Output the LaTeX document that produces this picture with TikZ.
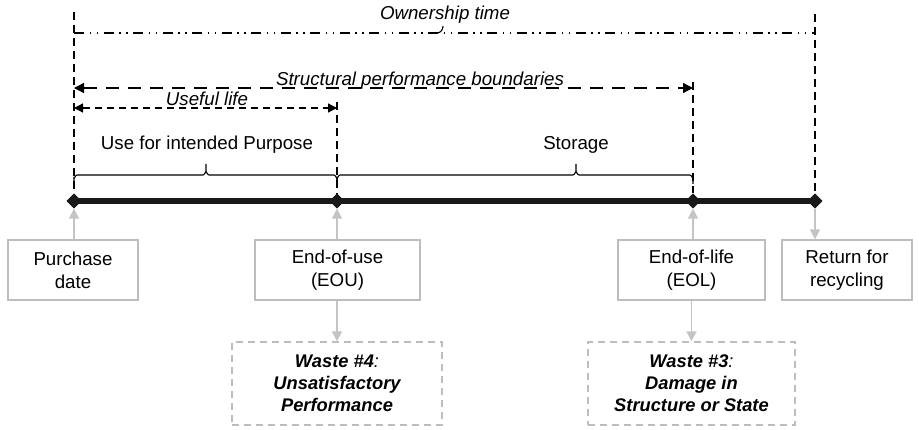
\documentclass[tikz,border=0pt]{standalone}
\usepackage{fontspec}
\setmainfont{Liberation Sans}
\usetikzlibrary{arrows.meta,shapes.geometric}
\definecolor{boxgray}{HTML}{BDBDBD}
\definecolor{linegray}{HTML}{C4C4C4}
\tikzset{
  lbl/.style={font=\fontsize{18.7}{22}\selectfont, inner sep=0pt},
  itlbl/.style={font=\fontsize{18.7}{22}\selectfont\itshape, inner sep=0pt},
  evbox/.style={draw=boxgray, line width=1.4pt, align=center, minimum height=60pt,
    font=\fontsize{18.7}{23}\selectfont, inner sep=0pt},
  wastebox/.style={draw=boxgray, line width=1.4pt, dash pattern=on 7pt off 5pt, align=center,
    minimum height=83pt, font=\fontsize{18.3}{22}\selectfont\bfseries\itshape, inner sep=0pt},
  pin/.style={diamond, fill=black!90, inner sep=0pt, minimum width=15pt, minimum height=15pt},
  grayarrow/.style={draw=linegray, line width=1.8pt, -{Triangle[length=10pt,width=10pt]}},
  vdash/.style={draw=black, line width=1.3pt, dash pattern=on 8pt off 5pt},
  bracket/.style={draw=black, line width=1.1pt},
}
% square bracket with a small central tick: #1 left x, #2 tick x, #3 right x, #4 line y
\newcommand\phasebracket[4]{%
  \draw[bracket] (#1,#4+9) -- (#1,#4+3) to[out=-90,in=180] (#1+3,#4)
    -- (#2-3,#4) to[out=0,in=90] (#2,#4-3) -- (#2,#4-11)
    (#2,#4-3) to[out=90,in=180] (#2+3,#4) -- (#3-3,#4) to[out=0,in=-90] (#3,#4+3) -- (#3,#4+9);
}
\begin{document}
\begin{tikzpicture}[x=1pt, y=-1pt]
\useasboundingbox (0,0) rectangle (919,430);

% milestones on the time axis
\node[pin] (d1) at (74,201) {};
\node[pin] (d2) at (337,201) {};
\node[pin] (d3) at (693,201) {};
\node[pin] (d4) at (815,201) {};
\draw[line width=6pt, black!90] (d1.center) -- (d4.center);
\foreach \d in {d1,d2,d3,d4} \node[pin] at (\d) {};

% vertical markers
\coordinate (t1) at (74,12);
\coordinate (t2) at (337,102);
\coordinate (t3) at (693,82);
\coordinate (t4) at (815,14);
\draw[vdash] (t1) -- (d1.north);
\draw[vdash] (t2) -- (d2.north);
\draw[vdash] (t3) -- (d3.north);
\draw[vdash] (t4) -- (d4.north);

% phase brackets
\phasebracket{74}{206}{337}{175}
\phasebracket{337}{576}{693}{175}
\node[lbl] (use) at (207,145) {Use for intended Purpose};
\node[lbl] (sto) at (576,145) {Storage};

% ownership time
\coordinate (o1) at (74,33);
\coordinate (o2) at (815,33);
\draw[draw=black, line width=1.1pt, dash pattern=on 10pt off 5.5pt on 1.5pt off 5.5pt on 1.5pt off 5.5pt] (o1) -- (o2);
\draw[draw=black, line width=1.1pt] (437,33) to[out=0, in=-90] (443,26);
\node[itlbl] (own) at (445,15) {Ownership time};

% structural performance boundaries
\coordinate (s1) at (74,88);
\coordinate (s2) at (693,88);
\draw[line width=1.4pt, dash pattern=on 13pt off 9pt, {Triangle[length=10pt,width=10pt]}-{Triangle[length=10pt,width=10pt]}] (s1) -- (s2);
\node[itlbl, anchor=base] (spb) at (420,85.5) {Structural performance boundaries};

% useful life
\coordinate (u1) at (74,108);
\coordinate (u2) at (337,108);
\draw[line width=1.3pt, dash pattern=on 7pt off 5pt, {Triangle[length=9pt,width=9pt]}-{Triangle[length=9pt,width=9pt]}] (u1) -- (u2);
\node[itlbl, anchor=base] (ul) at (207,106) {Useful life};

% event boxes
\node[evbox, minimum width=130pt] (pur) at (73,270) {Purchase\\date};
\node[evbox, minimum width=165pt] (eou) at (337.5,270) {End-of-use\\(EOU)};
\node[evbox, minimum width=147pt] (eol) at (691.5,270) {End-of-life\\(EOL)};
\node[evbox, minimum width=130pt] (ret) at (847,270) {Return for\\recycling};

% waste boxes
\node[wastebox, minimum width=210pt] (w4) at (337,383.5) {Waste \#4\textmd{:}\\Unsatisfactory\\Performance};
\node[wastebox, minimum width=207pt] (w3) at (691.5,383.5) {Waste \#3\textmd{:}\\Damage in\\Structure or State};

% gray connectors
\draw[grayarrow] (pur.north -| d1) -- (d1.south);
\draw[grayarrow] (eou.north -| d2) -- (d2.south);
\draw[grayarrow] (eol.north -| d3) -- (d3.south);
\draw[grayarrow] (d4.south) -- (ret.north -| d4);
\draw[grayarrow] (eou.south -| w4) -- (w4.north);
\draw[grayarrow] (eol.south -| w3) -- (w3.north);
\end{tikzpicture}
\end{document}
